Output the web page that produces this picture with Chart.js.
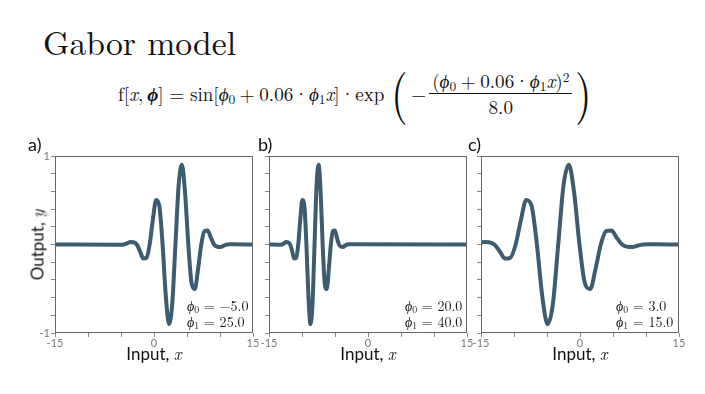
<!DOCTYPE html>
<html><head><meta charset="utf-8">
<script src="https://cdn.jsdelivr.net/npm/chart.js@4.4.0/dist/chart.umd.min.js"></script>
<style>
html,body{margin:0;padding:0;background:#fff;}
body{width:705px;height:394px;position:relative;overflow:hidden;color:#111;}
canvas{position:absolute;}
.t{position:absolute;white-space:nowrap;line-height:1;}
.serif{font-family:"Latin Modern Roman","Liberation Serif",serif;}
.sans{font-family:Lato,"Open Sans",sans-serif;}
.mi{font-family:"Latin Modern Roman","Liberation Serif",serif;font-style:italic;}
.bl{display:inline-block;width:0;height:0;vertical-align:baseline;}
sub,sup{font-size:0.7em;line-height:0;}
sub{vertical-align:-0.25em;}
sup{vertical-align:0.45em;}
.bin{margin:0 0.24em;}
.dot{margin:0 0.02em;}
.rel{margin:0 0.3em;}
#eq{display:flex;align-items:center;}
#eq .paren{font-size:2.8em;display:inline-block;transform:scaleX(0.8);position:relative;top:-0.06em;margin:0 1px;}
#eq .frac{display:flex;flex-direction:column;align-items:center;margin-left:3px;}
#eq .num{padding:0 3px 2px 3px;}
#eq .den{border-top:1px solid #111;padding-top:3px;align-self:stretch;text-align:center;}
.ann{font-size:14px;}
.ann div{height:1.15em;line-height:1.15em;}
</style>
</head>
<body>
<canvas id="ca"></canvas>
<canvas id="cb"></canvas>
<canvas id="cc"></canvas>

<div id="title" class="t serif" style="font-size:34px">Gabor model<span class="bl"></span></div>
<div id="eq" class="t serif" style="font-size:17px">
<span>f[<i>x</i>,&thinsp;<b><i>ϕ</i></b>]<span class="rel">=</span>sin[<i>ϕ</i><sub>0</sub><span class="bin">+</span>0.06<span class="dot">·</span><i>ϕ</i><sub>1</sub><i>x</i>]<span class="dot">·</span>exp<span class="bl"></span></span>
<span class="paren" style="margin-left:5px">(</span>
<span>−</span>
<span class="frac"><span class="num">(<i>ϕ</i><sub>0</sub><span class="bin">+</span>0.06<span class="dot">·</span><i>ϕ</i><sub>1</sub><i>x</i>)<sup>2</sup></span><span class="den">8.0</span></span>
<span class="paren">)</span>
</div>

<div id="la" class="t sans" style="font-size:18px">a)<span class="bl"></span></div>
<div id="lb" class="t sans" style="font-size:18px">b)<span class="bl"></span></div>
<div id="lc" class="t sans" style="font-size:18px">c)<span class="bl"></span></div>

<div id="xa" class="t sans" style="font-size:17px">Input, <span class="mi">x</span><span class="bl"></span></div>
<div id="xb" class="t sans" style="font-size:17px">Input, <span class="mi">x</span><span class="bl"></span></div>
<div id="xc" class="t sans" style="font-size:17px">Input, <span class="mi">x</span><span class="bl"></span></div>
<div id="ylab" class="t sans" style="font-size:17px">Output, <span class="mi">y</span></div>

<div id="pa" class="t serif ann"><div><i>ϕ</i><sub>0</sub> = −5.0<span class="bl"></span></div><div><i>ϕ</i><sub>1</sub> = 25.0</div></div>
<div id="pb" class="t serif ann"><div><i>ϕ</i><sub>0</sub> = 20.0<span class="bl"></span></div><div><i>ϕ</i><sub>1</sub> = 40.0</div></div>
<div id="pc" class="t serif ann"><div><i>ϕ</i><sub>0</sub> = 3.0<span class="bl"></span></div><div><i>ϕ</i><sub>1</sub> = 15.0</div></div>

<script>
// ---- data ----
const aX = [-15, -5.54, -5.05, -4.56, -4.07, -3.59, -3.10, -2.61, -2.12, -1.63, -1.14, -0.66, -0.17, 0.32, 0.81, 1.30, 1.79, 2.27, 2.76, 3.25, 3.74, 4.23, 4.71, 5.20, 5.69, 6.18, 6.67, 7.16, 7.64, 8.13, 8.62, 9.11, 9.60, 10.09, 10.57, 11.06, 11.55, 12.04, 15];
const aY = [0, -0.003, -0.004, 0, 0.012, 0.028, 0.025, 0, -0.076, -0.158, -0.150, 0, 0.281, 0.504, 0.435, 0, -0.581, -0.900, -0.672, 0, 0.672, 0.900, 0.581, 0, -0.435, -0.504, -0.281, 0, 0.150, 0.158, 0.076, 0, -0.025, -0.028, -0.012, 0, 0.004, 0.003, 0];

const bX = [-15, -13.65, -13.34, -13.04, -12.73, -12.42, -12.11, -11.80, -11.49, -11.19, -10.88, -10.57, -10.26, -9.95, -9.64, -9.33, -9.03, -8.72, -8.41, -8.10, -7.79, -7.48, -7.17, -6.87, -6.56, -6.25, -5.94, -5.63, -5.32, -5.02, -4.71, -4.40, -4.09, -3.78, -3.47, -3.16, -2.86, -2.55, 15];
const bY = [0, -0.003, -0.004, 0, 0.012, 0.028, 0.025, 0, -0.076, -0.158, -0.150, 0, 0.281, 0.504, 0.435, 0, -0.581, -0.900, -0.672, 0, 0.672, 0.900, 0.581, 0, -0.435, -0.504, -0.281, 0, 0.150, 0.158, 0.076, 0, -0.025, -0.028, -0.012, 0, 0.004, 0.003, 0];

const cX = [-15, -14.59, -13.78, -12.98, -12.17, -11.36, -10.56, -9.75, -8.94, -8.14, -7.33, -6.53, -5.72, -4.91, -4.11, -3.30, -2.49, -1.69, -0.88, -0.08, 0.73, 1.54, 2.34, 3.15, 3.96, 4.76, 5.57, 6.38, 7.18, 7.99, 8.79, 9.60, 10.41, 11.21, 15];
const cY = [0.02, 0.028, 0.025, 0, -0.076, -0.158, -0.150, 0, 0.281, 0.504, 0.435, 0, -0.581, -0.900, -0.672, 0, 0.672, 0.900, 0.581, 0, -0.435, -0.504, -0.281, 0, 0.150, 0.158, 0.076, 0, -0.025, -0.028, -0.012, 0, 0.004, 0.003, 0];

const xTickLabels = [-15, 0, 15];
const yTickLabels = [-1, 1];
const xRange = [-15, 15];
const yRange = [-1, 1];

// ---- styling / layout ----
const LINE_COLOR = '#3e5c70';
const FRAME_COLOR = '#666';
const TICK_COLOR = '#888';
const LABEL_COLOR = '#7a7a7a';
const PLOT_TOP = 156, PLOT_H = 177;
const YAXIS_W = 30, XAXIS_H = 22, PAD_TOP = 10, PAD_RIGHT = 15;

Chart.defaults.font.family = 'Lato, "Open Sans", sans-serif';

const framePlugin = {
  id: 'frame',
  afterDatasetsDraw(chart) {
    const {ctx, chartArea: a} = chart;
    ctx.save();
    ctx.strokeStyle = FRAME_COLOR;
    ctx.lineWidth = 1;
    ctx.strokeRect(Math.round(a.left) + 0.5, Math.round(a.top) + 0.5,
                   Math.round(a.right - a.left) - 1, Math.round(a.bottom - a.top) - 1);
    ctx.restore();
  }
};

function panel(id, plotLeft, plotW, xs, ys, showY) {
  const cv = document.getElementById(id);
  cv.width = plotW + YAXIS_W + PAD_RIGHT;
  cv.height = PLOT_H + PAD_TOP + XAXIS_H;
  cv.style.left = (plotLeft - YAXIS_W) + 'px';
  cv.style.top = (PLOT_TOP - PAD_TOP) + 'px';
  new Chart(cv, {
    type: 'line',
    data: { datasets: [{
      data: xs.map((x, i) => ({x: x, y: ys[i]})),
      borderColor: LINE_COLOR, borderWidth: 4, pointRadius: 0,
      cubicInterpolationMode: 'monotone', fill: false,
      borderCapStyle: 'round', borderJoinStyle: 'round'
    }]},
    options: {
      responsive: false, animation: false, devicePixelRatio: 1,
      layout: { padding: {left: 0, top: PAD_TOP, right: PAD_RIGHT, bottom: 0} },
      plugins: { legend: {display: false}, tooltip: {enabled: false} },
      scales: {
        x: {
          type: 'linear', min: xRange[0], max: xRange[1],
          afterFit: s => { s.height = XAXIS_H; },
          border: { display: false },
          grid: { drawOnChartArea: false, drawTicks: true, tickLength: 4, color: TICK_COLOR, lineWidth: 1 },
          ticks: { stepSize: 5, autoSkip: false, maxRotation: 0, padding: 0, color: LABEL_COLOR,
                   font: {size: 11},
                   callback: v => xTickLabels.some(t => Math.abs(t - v) < 1e-9) ? String(Math.round(v)) : '' }
        },
        y: {
          type: 'linear', min: yRange[0], max: yRange[1],
          afterFit: s => { s.width = YAXIS_W; },
          border: { display: false },
          grid: { drawOnChartArea: false, drawTicks: true, tickLength: 4, color: TICK_COLOR, lineWidth: 1 },
          ticks: { stepSize: 0.2, autoSkip: false, padding: 1, color: LABEL_COLOR, font: {size: 11},
                   callback: v => (showY && yTickLabels.some(t => Math.abs(t - v) < 1e-9)) ? String(Math.round(v)) : '' }
        }
      }
    },
    plugins: [framePlugin]
  });
}

panel('ca', 55, 198, aX, aY, true);
panel('cb', 269, 198, bX, bY, false);
panel('cc', 481, 198, cX, cY, false);

// ---- text placement ----
function fit(el, width) {
  for (let k = 0; k < 3; k++) {
    const w = el.getBoundingClientRect().width;
    const fs = parseFloat(getComputedStyle(el).fontSize);
    el.style.fontSize = (fs * width / w) + 'px';
  }
}
function place(el, x, baseline, align) {
  el.style.left = '0px'; el.style.top = '0px';
  const r = el.getBoundingClientRect();
  const m = el.querySelector('.bl').getBoundingClientRect();
  const left = align === 'center' ? x - r.width / 2 : x;
  el.style.left = left + 'px';
  el.style.top = (baseline - (m.top - r.top)) + 'px';
}
const $ = id => document.getElementById(id);
fit($('title'), 193); place($('title'), 43, 54.5);
fit($('eq'), 477); place($('eq'), 118, 101);
place($('la'), 28, 151); place($('lb'), 258, 151); place($('lc'), 468, 151);
place($('xa'), 154, 360, 'center'); place($('xb'), 368, 360, 'center'); place($('xc'), 580, 360, 'center');
fit($('pa'), 61.6); fit($('pb'), 57.3); fit($('pc'), 57.3);
place($('pa'), 187, 310.5); place($('pb'), 405, 310.5); place($('pc'), 616, 310.5);
const yl = $('ylab');
yl.style.left = '37px'; yl.style.top = '245px';
yl.style.transform = 'translate(-50%,-50%) rotate(-90deg)';
</script>
</body></html>
